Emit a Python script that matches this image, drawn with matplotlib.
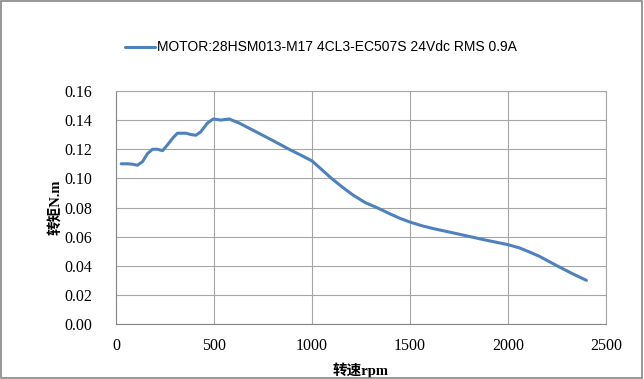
import matplotlib
matplotlib.use("Agg")
import matplotlib.pyplot as plt

# speed (rpm) vs torque (N.m)
rpm = [27, 60, 85, 110, 136, 161, 187, 212, 238, 263, 289, 314, 357, 385, 408, 433, 467, 497,
       535, 577, 628, 700, 800, 883, 950, 1000, 1050, 1100, 1150, 1210, 1270, 1330, 1400,
       1450, 1500, 1560, 1620, 1750, 1880, 2000, 2060, 2100, 2160, 2250, 2330, 2400]
torque = [0.110, 0.110, 0.1097, 0.109, 0.1115, 0.117, 0.120, 0.120, 0.119, 0.123, 0.1275, 0.131,
          0.131, 0.130, 0.1296, 0.132, 0.138, 0.1408, 0.140, 0.1408, 0.138, 0.133, 0.126, 0.120,
          0.1155, 0.112, 0.106, 0.100, 0.0945, 0.0885, 0.0835, 0.080, 0.0755, 0.0725, 0.070,
          0.0675, 0.0655, 0.0617, 0.0578, 0.0545, 0.0522, 0.050, 0.0465, 0.040, 0.0345, 0.030]
series_name = "MOTOR:28HSM013-M17 4CL3-EC507S 24Vdc RMS 0.9A"

serif = ["Liberation Serif", "Noto Sans CJK SC"]

fig = plt.figure(figsize=(6.44, 3.79), dpi=100)
ax = fig.add_axes([0.180, 0.145, 0.761, 0.615])

ax.plot(rpm, torque, color="#4F81BD", linewidth=2.2, label=series_name,
        solid_joinstyle="round", solid_capstyle="round")

ax.set_xlim(0, 2500)
ax.set_ylim(0, 0.16)
ax.set_xticks([0, 500, 1000, 1500, 2000, 2500])
ax.set_yticks([i * 0.02 for i in range(9)])
ax.set_yticklabels([f"{i * 0.02:.2f}" for i in range(9)])
ax.grid(True, color="#A6A6A6", linewidth=0.8)
ax.set_axisbelow(True)
ax.tick_params(length=0, labelsize=11.5)
for lab in ax.get_xticklabels() + ax.get_yticklabels():
    lab.set_family("Liberation Serif")
ax.tick_params(axis="y", pad=17)
ax.tick_params(axis="x", pad=10)
for s in ax.spines.values():
    s.set_color("#A6A6A6")
    s.set_linewidth(0.8)
ax.spines["left"].set_color("#868686")
ax.spines["bottom"].set_color("#868686")

ax.set_xlabel("转速rpm", family=serif, fontweight="bold", fontsize=10.5, labelpad=6)
ax.set_ylabel("转矩N.m", family=serif, fontweight="bold", fontsize=10.5)
ax.yaxis.set_label_coords(-0.108, 0.5)

fig.legend(loc="center", bbox_to_anchor=(0.498, 0.875), frameon=False,
           prop={"family": "Liberation Sans", "size": 10}, handlelength=2.2, handletextpad=0.1)

# outer border of the chart area
fig.patches.append(plt.Rectangle((0.002, 0.003), 0.995, 0.994, transform=fig.transFigure,
                                 fill=False, edgecolor="#868686", linewidth=1.2))

fig.savefig("out.png", dpi=100)
